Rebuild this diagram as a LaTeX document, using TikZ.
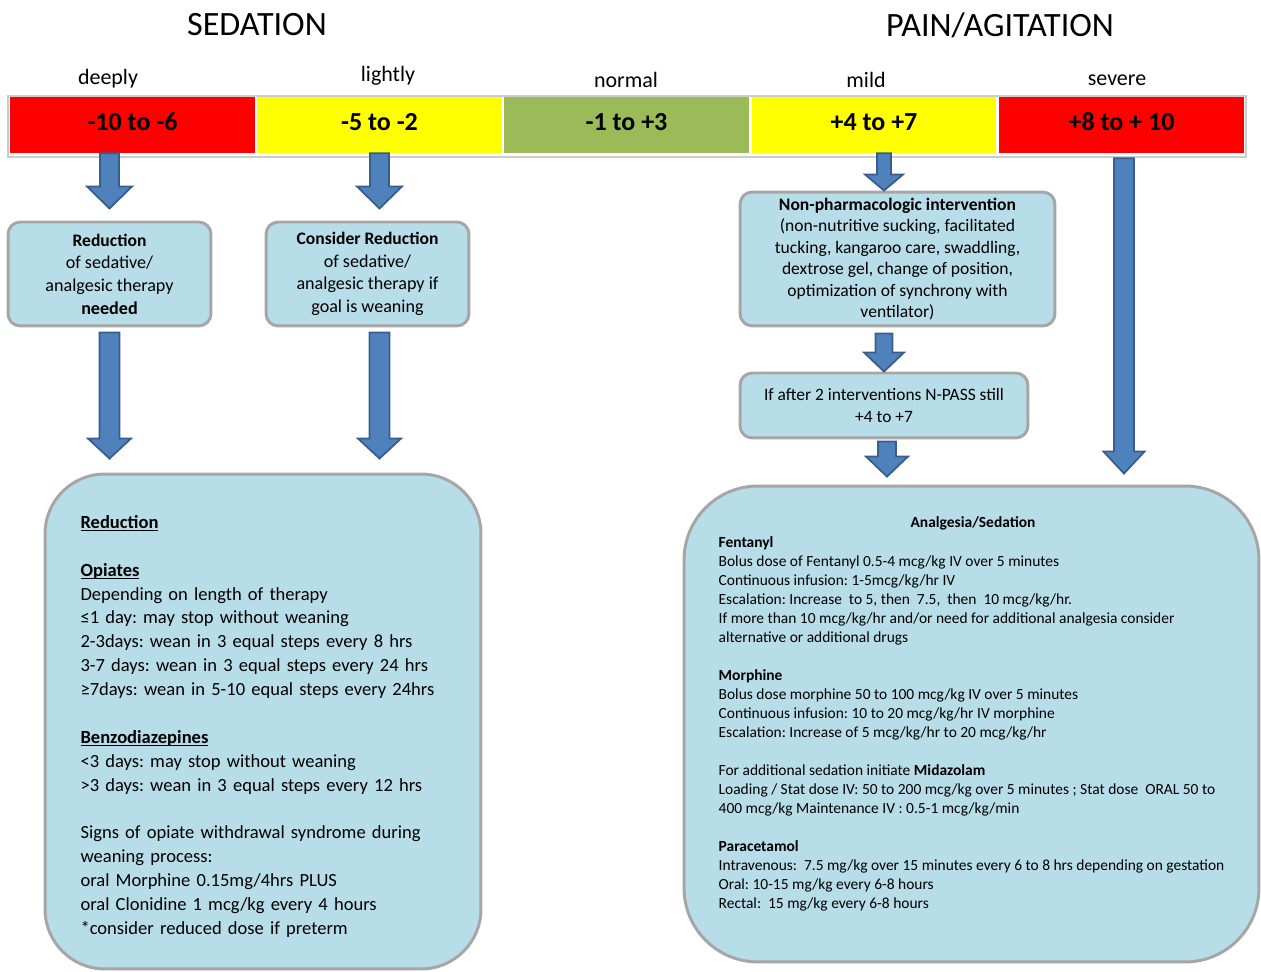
\documentclass[tikz,border=0pt]{standalone}
\usepackage{fontspec}
\setmainfont{Carlito}
\usepackage{tikz}
\usetikzlibrary{calc}
\definecolor{scalered}{RGB}{255,0,0}
\definecolor{scaleyellow}{RGB}{255,255,0}
\definecolor{scalegreen}{RGB}{155,187,89}
\definecolor{boxfill}{RGB}{183,221,232}
\definecolor{boxline}{RGB}{166,166,166}
\definecolor{arrowfill}{RGB}{79,129,189}
\definecolor{arrowline}{RGB}{56,93,138}
\tikzstyle{heading} = [font=\fontsize{19.4}{23}\selectfont]
\tikzstyle{sevlabel} = [font=\fontsize{12.5}{15}\selectfont]
\tikzstyle{scalecell} = [minimum width=4.9cm, minimum height=1.12cm, inner sep=0pt, text height=10pt, text depth=4.3pt, font=\fontsize{14.8}{17}\selectfont\bfseries]
\tikzstyle{infobox} = [draw=boxline, fill=boxfill, line width=1.7pt, rounded corners=7pt, inner sep=0pt, align=center]
\tikzstyle{bigbox} = [infobox, rounded corners=34pt, align=left]
\tikzstyle{fat} = [fill=arrowfill, draw=arrowline, line width=1pt]
\newcommand{\ulhead}[1]{\leavevmode\setbox0\hbox{\textbf{#1}}\rlap{\rule[-1.6pt]{\wd0}{0.6pt}}\box0}
\newcommand{\fatarrow}[5]{%
  \path #1 coordinate (fa-s);
  \path #2 coordinate (fa-e);
  \coordinate (fa-t) at (fa-s |- fa-e);
  \draw[fat] ($(fa-s)+(-#3,0)$) -- ($(fa-s)+(#3,0)$) -- ($(fa-t)+(#3,-#5)$) -- ($(fa-t)+(#4,-#5)$) -- (fa-t) -- ($(fa-t)+(-#4,-#5)$) -- ($(fa-t)+(-#3,-#5)$) -- cycle;}

\begin{document}
\frenchspacing
\begin{tikzpicture}[x=0.02cm, y=-0.02cm]
		\useasboundingbox (0,0) rectangle (1261,972);
		\node[heading] (sed) at (257,25) {SEDATION};
		\node[heading] (pain) at (1000,25) {PAIN/AGITATION};
		\node[sevlabel] (deeply) at (108,79) {deeply};
		\node[sevlabel] (lightly) at (388,76) {lightly};
		\node[sevlabel] (normal) at (626,80) {normal};
		\node[sevlabel] (mildly) at (866,80) {mild};
		\node[sevlabel] (severely) at (1117,80) {severe};
		\draw[black!20, line width=0.6pt] (8,96) rectangle (1246,157);
		\node[scalecell, fill=scalered] (deep) at (132.5,125) {-10 to -6};
		\node[scalecell, fill=scaleyellow] (light) at (379.5,125) {-5 to -2};
		\node[scalecell, fill=scalegreen] (norm) at (626.5,125) {-1 to +3};
		\node[scalecell, fill=scaleyellow] (mild) at (874,125) {+4 to +7};
		\node[scalecell, fill=scalered] (severe) at (1121.5,125) {+8 to + 10};
		\node[infobox, minimum width=4.06cm, minimum height=2.08cm, font=\fontsize{10.3}{12.9}\selectfont] (redu) at (109.5,274) {{\fontsize{10}{12.9}\selectfont\textbf{Reduction}}\\of sedative/\\analgesic therapy\\\textbf{needed}};
		\node[infobox, minimum width=4.06cm, minimum height=2.08cm, font=\fontsize{10.3}{12.9}\selectfont] (cons) at (367.5,274) {{\fontsize{10}{12.9}\selectfont\textbf{Consider Reduction}}\\of sedative/\\analgesic therapy if\\goal is weaning};
		\node[infobox, minimum width=6.3cm, minimum height=2.68cm, font=\fontsize{10}{12.2}\selectfont] (nonpharm) at (897.5,259) {\textbf{Non-pharmacologic intervention}\\(non-nutritive sucking, facilitated\\tucking, kangaroo care, swaddling,\\dextrose gel, change of position,\\optimization of synchrony with\\ventilator)};
		\node[infobox, minimum width=5.76cm, minimum height=1.3cm, font=\fontsize{9.9}{12.2}\selectfont] (npass) at (884,405.5) {If after 2 interventions N-PASS still\\+4 to +7};
		\node[bigbox, minimum width=8.72cm, minimum height=9.9cm, text width=7.3cm, font=\fontsize{10.55}{13.6}\selectfont] (wean) at (263,721.5) {\ulhead{Reduction}\rule{0pt}{13pt}\\[13.6pt]
			\ulhead{Opiates}\\
			Depending on length of therapy\\
			≤1 day: may stop without weaning\\
			2-3days: wean in 3 equal steps every 8 hrs\\
			3-7 days: wean in 3 equal steps every 24 hrs\\
			≥7days: wean in 5-10 equal steps every 24hrs\\[13.6pt]
			\ulhead{Benzodiazepines}\\
			<3 days: may stop without weaning\\
			>3 days: wean in 3 equal steps every 12 hrs\\[13.6pt]
			Signs of opiate withdrawal syndrome during\\
			weaning process:\\
			oral Morphine 0.15mg/4hrs PLUS\\
			oral Clonidine 1 mcg/kg every 4 hours\\
			{*}consider reduced dose if preterm};
		\node[bigbox, rounded corners=42pt, minimum width=11.5cm, minimum height=9.52cm, font=\fontsize{8.8}{10.8}\selectfont] (drugs) at (971.5,724) {\textbf{Fentanyl}\\
			Bolus dose of Fentanyl 0.5-4 mcg/kg IV over 5 minutes\\
			Continuous infusion: 1-5mcg/kg/hr IV\\
			Escalation: Increase~ to 5, then~ 7.5,~ then~ 10 mcg/kg/hr.\\
			If more than 10 mcg/kg/hr and/or need for additional analgesia consider\\
			alternative or additional drugs\\[10.8pt]
			\textbf{Morphine}\\
			Bolus dose morphine 50 to 100 mcg/kg IV over 5 minutes\\
			Continuous infusion: 10 to 20 mcg/kg/hr IV morphine\\
			Escalation: Increase of 5 mcg/kg/hr to 20 mcg/kg/hr\\[10.8pt]
			For additional sedation initiate \textbf{Midazolam}\\
			Loading / Stat dose IV: 50 to 200 mcg/kg over 5 minutes ; Stat dose~ ORAL 50 to\\
			400 mcg/kg Maintenance IV : 0.5-1 mcg/kg/min\\[10.8pt]
			\textbf{Paracetamol}\\
			Intravenous:~ 7.5 mg/kg over 15 minutes every 6 to 8 hrs depending on gestation\\
			Oral: 10-15 mg/kg every 6-8 hours\\
			Rectal:~ 15 mg/kg every 6-8 hours};
		\node[font=\fontsize{8.8}{10.8}\selectfont\bfseries] (drugtitle) at ($(drugs.north)+(1.5,39)$) {Analgesia/Sedation};
		\fatarrow{(redu.north |- deep.south)}{($(redu.north)+(0,-12)$)}{9.5}{22.5}{22}
		\fatarrow{(light.south)}{($(light.south |- cons.north)+(0,-12)$)}{9.5}{22.5}{22}
		\fatarrow{(npass.north |- mild.south)}{(npass.north |- nonpharm.north)}{7}{19}{16}
		\fatarrow{($(severe.south)+(2.5,5)$)}{($(severe.south |- drugs.north)+(2.5,-11)$)}{10}{20.5}{22}
		\fatarrow{($(redu.south)+(0,5)$)}{($(redu.south |- wean.north)+(0,-14)$)}{10}{21.5}{20}
		\fatarrow{($(light.south |- cons.south)+(0,5)$)}{($(light.south |- wean.north)+(0,-14)$)}{10}{21.5}{20}
		\fatarrow{($(npass.north |- nonpharm.south)+(0,6)$)}{(npass.north)}{8.5}{20}{19}
		\fatarrow{($(npass.south)+(3,2)$)}{($(npass.south |- drugs.north)+(3,-8)$)}{9}{21}{20}
		\end{tikzpicture}
\end{document}
